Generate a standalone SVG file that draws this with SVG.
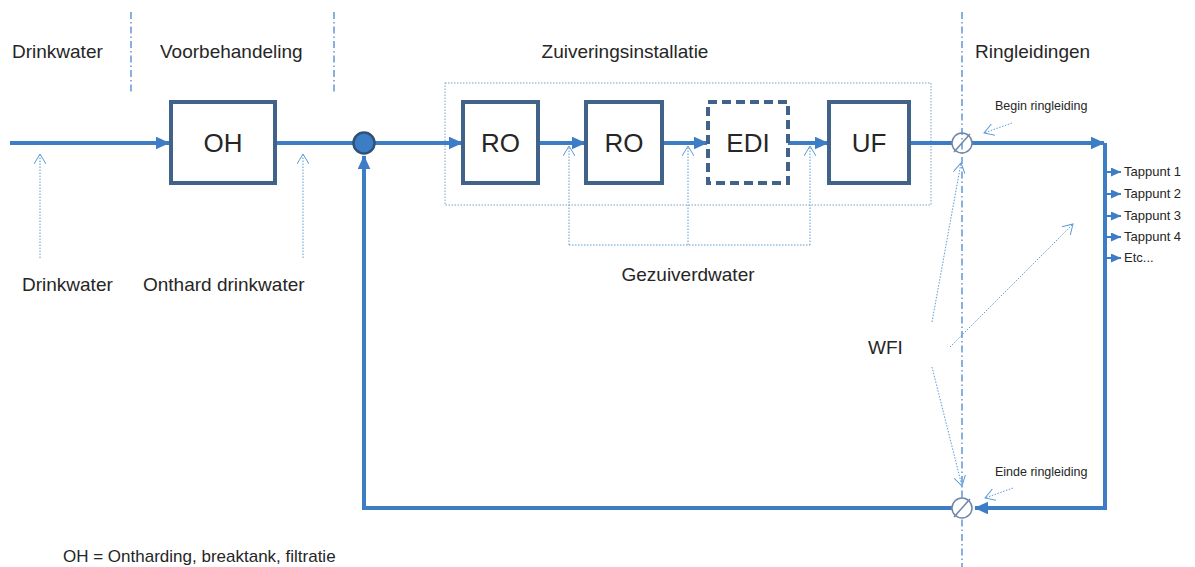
<svg xmlns="http://www.w3.org/2000/svg" width="1195" height="567" viewBox="0 0 1195 567">
<defs>
<style>
text{font-family:"Liberation Sans",Arial,sans-serif;fill:#262626}
.h{font-size:19px}
.box{fill:#fff;stroke:#41638A;stroke-width:4}
.bl{font-size:26px;text-anchor:middle}
.pipe{fill:none;stroke:#3D7DC6;stroke-width:4}
.tap{fill:none;stroke:#3D7DC6;stroke-width:2}
.thin{fill:none;stroke:#5B9BD5;stroke-width:1;stroke-dasharray:1.5 1.5}
.sep{fill:none;stroke:#3D7DC6;stroke-width:1.2;stroke-dasharray:7 3 1.5 3}
.sm{font-size:12.5px}
.tp{font-size:13px}
</style>
<marker id="ah" markerWidth="4" markerHeight="4" refX="3.3" refY="1.6" orient="auto" markerUnits="strokeWidth"><path d="M0,0 L3.5,1.6 L0,3.2 Z" fill="#3D7DC6"/></marker>
<marker id="th" markerWidth="12" markerHeight="10" refX="10" refY="4.5" orient="auto" markerUnits="userSpaceOnUse"><path d="M0,0 L10,4.5 L0,9 Z" fill="#3D7DC6"/></marker>
<marker id="oa" markerWidth="12" markerHeight="12" refX="10" refY="6" orient="auto" markerUnits="userSpaceOnUse"><path d="M0,0 L10,6 L0,12" fill="none" stroke="#5B9BD5" stroke-width="1"/></marker>
</defs>

<g id="separators">
<line class="sep" x1="131" y1="12" x2="131" y2="92"/>
<line class="sep" x1="334" y1="12" x2="334" y2="92"/>
<line class="sep" x1="962" y1="12" x2="962" y2="567"/>
</g>

<g id="headings">
<text class="h" x="12" y="58">Drinkwater</text>
<text class="h" x="160" y="58">Voorbehandeling</text>
<text class="h" x="625" y="58" text-anchor="middle">Zuiveringsinstallatie</text>
<text class="h" x="975" y="58">Ringleidingen</text>
</g>

<g id="installatie-frame">
<rect x="445" y="83" width="486" height="122" fill="none" stroke="#7F9DBF" stroke-width="1" stroke-dasharray="1.5 1.5"/>
</g>

<g id="connectors">
<line class="pipe" x1="10" y1="143" x2="169" y2="143" marker-end="url(#ah)"/>
<line class="pipe" x1="275" y1="143" x2="354" y2="143"/>
<line class="pipe" x1="374" y1="143" x2="462" y2="143" marker-end="url(#ah)"/>
<line class="pipe" x1="538" y1="143" x2="585" y2="143" marker-end="url(#ah)"/>
<line class="pipe" x1="662" y1="143" x2="707" y2="143" marker-end="url(#ah)"/>
<line class="pipe" x1="788" y1="143" x2="828" y2="143" marker-end="url(#ah)"/>
<line class="pipe" x1="909" y1="143" x2="952" y2="143"/>
<line class="pipe" x1="972" y1="143" x2="1104" y2="143" marker-end="url(#ah)"/>
<polyline class="pipe" points="1105,143 1105,508 975,508" marker-end="url(#ah)"/>
<polyline class="pipe" points="952,508 364,508 364,156" marker-end="url(#ah)"/>
<line class="tap" x1="1105" y1="172" x2="1121" y2="172" marker-end="url(#th)"/>
<line class="tap" x1="1105" y1="194" x2="1121" y2="194" marker-end="url(#th)"/>
<line class="tap" x1="1105" y1="216" x2="1121" y2="216" marker-end="url(#th)"/>
<line class="tap" x1="1105" y1="237" x2="1121" y2="237" marker-end="url(#th)"/>
<line class="tap" x1="1105" y1="258" x2="1121" y2="258" marker-end="url(#th)"/>
<line class="thin" x1="40" y1="258" x2="40" y2="154" marker-end="url(#oa)"/>
<line class="thin" x1="303" y1="258" x2="303" y2="154" marker-end="url(#oa)"/>
<polyline class="thin" points="569,245 810,245"/>
<line class="thin" x1="569" y1="245" x2="569" y2="146" marker-end="url(#oa)"/>
<line class="thin" x1="688" y1="245" x2="688" y2="146" marker-end="url(#oa)"/>
<line class="thin" x1="810" y1="245" x2="810" y2="146" marker-end="url(#oa)"/>
<line class="thin" x1="1012" y1="123" x2="984" y2="133" marker-end="url(#oa)"/>
<line class="thin" x1="1013" y1="488" x2="985" y2="498" marker-end="url(#oa)"/>
<line class="thin" x1="932" y1="322" x2="961" y2="163" marker-end="url(#oa)"/>
<line class="thin" x1="950" y1="347" x2="1073" y2="224" marker-end="url(#oa)"/>
<line class="thin" x1="932" y1="367" x2="962" y2="486" marker-end="url(#oa)"/>
</g>

<g id="OH"><rect class="box" x="171" y="102" width="104" height="81"/><text class="bl" x="223" y="152">OH</text></g>
<g id="RO1"><rect class="box" x="463" y="102" width="75" height="81"/><text class="bl" x="500.5" y="152">RO</text></g>
<g id="RO2"><rect class="box" x="586" y="102" width="76" height="81"/><text class="bl" x="624" y="152">RO</text></g>
<g id="EDI"><rect class="box" x="708" y="102" width="80" height="81" stroke-dasharray="9 5"/><text class="bl" x="748" y="152">EDI</text></g>
<g id="UF"><rect class="box" x="829" y="102" width="80" height="81"/><text class="bl" x="869" y="152">UF</text></g>

<g id="junction"><circle cx="364" cy="143" r="10.5" fill="#3D7DC6" stroke="#2F5378" stroke-width="2.5"/></g>
<g id="valve-begin"><circle cx="962" cy="143" r="10" fill="none" stroke="#6F87A6" stroke-width="1.5"/><line x1="954" y1="152" x2="970" y2="134" stroke="#6F87A6" stroke-width="1.5"/></g>
<g id="valve-einde"><circle cx="962" cy="508" r="10" fill="#fff" stroke="#6F87A6" stroke-width="1.5"/><line x1="954" y1="517" x2="970" y2="499" stroke="#6F87A6" stroke-width="1.5"/></g>

<g id="labels">
<text class="h" x="22" y="291">Drinkwater</text>
<text class="h" x="143" y="291">Onthard drinkwater</text>
<text class="h" x="688" y="281" text-anchor="middle">Gezuiverdwater</text>
<text class="h" x="868" y="354">WFI</text>
<text class="sm" x="995" y="110">Begin ringleiding</text>
<text class="sm" x="995" y="476">Einde ringleiding</text>
<text class="tp" x="1124" y="176">Tappunt 1</text>
<text class="tp" x="1124" y="198">Tappunt 2</text>
<text class="tp" x="1124" y="220">Tappunt 3</text>
<text class="tp" x="1124" y="241">Tappunt 4</text>
<text class="tp" x="1124" y="262">Etc...</text>
<text class="h" x="63" y="562" style="font-size:17px">OH = Ontharding, breaktank, filtratie</text>
</g>
</svg>
